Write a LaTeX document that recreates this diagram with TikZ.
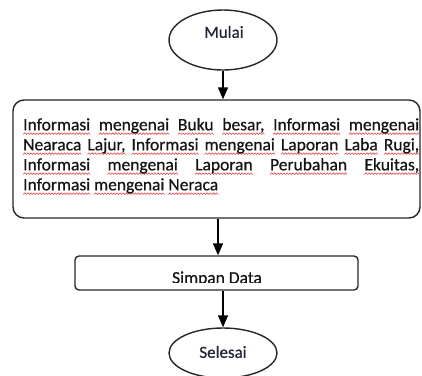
\documentclass[tikz,border=0pt]{standalone}
\usepackage{fontspec}
\setmainfont[FakeBold=0.6]{Carlito}
\newfontfamily\bodyfont[FakeBold=0.6]{Carlito}
\usetikzlibrary{shapes.geometric,arrows.meta}
\definecolor{edgecol}{HTML}{262626}
\definecolor{txtcol}{HTML}{141414}
\definecolor{startcol}{HTML}{1F2436}
\definecolor{spellred}{HTML}{E23A3A}
\newsavebox\wavebox
\sbox\wavebox{\tikz{\useasboundingbox (0,0) rectangle (3pt,1pt); \draw[spellred,line width=0.55pt,line cap=round] (0,0)--(1.5pt,1.5pt)--(3pt,0);}}
\newsavebox\wvword
\newcommand\wv[1]{\sbox\wvword{#1}\rlap{\lower4pt\hbox to\wd\wvword{\xleaders\copy\wavebox\hfill}}\usebox\wvword}
\tikzset{
  terminal/.style={draw=edgecol, line width=1.4pt, ellipse, minimum width=108pt, inner sep=0pt},
  termtext/.style={text=startcol, font=\bodyfont\fontsize{17}{20}\selectfont, inner sep=0pt},
  infobox/.style={draw=edgecol, line width=1.4pt, rounded corners=11pt, minimum width=407pt, minimum height=118pt},
  infotxt/.style={text=txtcol, font=\bodyfont\fontsize{17.5}{20}\selectfont, text width=396pt, align=justify, inner sep=0pt, anchor=north west},
  procbox/.style={draw=edgecol, line width=1.4pt, rounded corners=4pt, minimum width=283pt, minimum height=34pt},
  proctext/.style={text=txtcol, font=\bodyfont\fontsize{17.5}{20}\selectfont, inner sep=0pt, anchor=base},
  arr/.style={draw=black, line width=1.6pt, -{Triangle[width=10pt,length=12pt]}}
}
\begin{document}
\begin{tikzpicture}[x=1pt,y=1pt]
\useasboundingbox (0,0) rectangle (422,-375);
\clip (0,0) rectangle (422,-375);
\node[terminal, minimum height=60pt] (mulai) at (223,-40) {};
\node[termtext] (mulaitext) at (224,-32) {Mulai};
\node[infobox] (info) at (216.5,-159) {};
\node[infotxt] (infotext) at (23,-118) {\tolerance=10000 \wv{Informasi} \wv{mengenai} \wv{Buku} \wv{besar,} \wv{Informasi} \wv{mengenai}\linebreak
\wv{Nearaca} \wv{Lajur,} \wv{Informasi} \wv{mengenai} \wv{Laporan} \wv{Laba} \wv{Rugi,}\linebreak
\wv{Informasi} \wv{mengenai} \wv{Laporan} \wv{Perubahan} \wv{Ekuitas,}\linebreak
\wv{Informasi} \wv{mengenai} \wv{Neraca}};
\node[procbox] (simpan) at (216.5,-273) {};
\begin{scope}
\clip (75,-256) rectangle (358,-282.5);
\node[proctext] (simpantext) at (217,-283.5) {Simpan Data};
\end{scope}
\node[terminal, minimum height=50pt] (selesai) at (223,-353) {};
\node[termtext] (selesaitext) at (223,-352) {Selesai};
\draw[arr] (mulai.south) -- (mulai.south |- info.north);
\draw[arr] ([xshift=1.5pt]info.south) -- ([xshift=1.5pt]info.south |- simpan.north);
\draw[arr] (selesai.north |- simpan.south) -- (selesai.north);
\end{tikzpicture}
\end{document}
